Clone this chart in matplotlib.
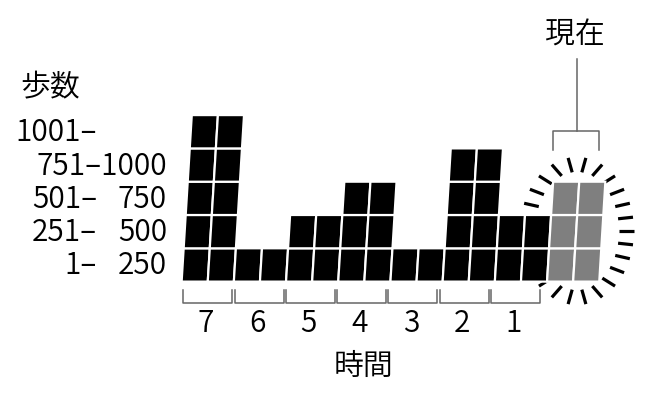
import numpy as np
import matplotlib
matplotlib.use("Agg")
import matplotlib.pyplot as plt
from matplotlib.patches import Polygon

# ---------------- data ----------------
hours = ["7", "6", "5", "4", "3", "2", "1"]
past_levels = [5, 5, 1, 1, 2, 2, 3, 3, 1, 1, 4, 4, 2, 2]   # two columns per hour
current_levels = [3, 3]
current_label = "現在"
level_labels = ["1– 250", "251– 500", "501– 750", "751–1000", "1001–"]
y_title = "歩数"
x_title = "時間"

# ---------------- style / layout ----------------
plt.rcParams['font.family'] = ['Noto Sans CJK JP', 'DejaVu Sans']
plt.rcParams['font.weight'] = 350
W, H = 667, 400
FS = 21.5
BLACK = "#000000"
GRAY = "#7f7f7f"
LINE = "#666666"

COL0_PX = 181.65
COL_PX = 26.1
ROW0_PX = 281.6
ROW_PX = 33.3
SHEAR = 0.061
GAP_PT = 2.2 * 72 / 100

fig = plt.figure(figsize=(W / 100, H / 100), dpi=100)
ax = fig.add_axes([0, 0, 1, 1])
ax.axis('off')
ax.set_xlim(-COL0_PX / COL_PX, (W - COL0_PX) / COL_PX)
ax.set_ylim(-(H - ROW0_PX) / ROW_PX, ROW0_PX / ROW_PX)
k = SHEAR * ROW_PX / COL_PX


def P(px, py):
    """pixel position (from top-left) -> data coordinates"""
    return ((px - COL0_PX) / COL_PX, (ROW0_PX - py) / ROW_PX)


# ---------------- blocks ----------------
levels = past_levels + current_levels
colors = [BLACK] * len(past_levels) + [GRAY] * len(current_levels)
for i, (n, c) in enumerate(zip(levels, colors)):
    for j in range(n):
        verts = [(i + k * j, j), (i + 1 + k * j, j),
                 (i + 1 + k * (j + 1), j + 1), (i + k * (j + 1), j + 1)]
        ax.add_patch(Polygon(verts, closed=True, facecolor=c, edgecolor='white',
                             linewidth=GAP_PT, joinstyle='miter', zorder=3))

# ---------------- burst around current ----------------
cx, cy = 577.0, 231.0
RX, RY, L, A = 57.0, 74.0, 15.0, 2.2
for m in range(26):
    phi = np.deg2rad(360.0 * m / 26)
    t = np.arctan2(RX * np.sin(phi), RY * np.cos(phi))
    ox, oy = cx + RX * np.cos(t), cy - RY * np.sin(t)
    nx, ny = np.cos(t) / RX ** A, np.sin(t) / RY ** A
    nn = np.hypot(nx, ny)
    nx, ny = nx / nn, ny / nn
    ix, iy = ox - L * nx, oy + L * ny
    p0, p1 = P(ox, oy), P(ix, iy)
    ax.plot([p0[0], p1[0]], [p0[1], p1[1]], color=BLACK, lw=2.3,
            solid_capstyle='butt', zorder=1)

# ---------------- x axis brackets + labels ----------------
BR0, BRP, BRW = 183.3, 51.3, 49.0
for h, lab in enumerate(hours):
    l = BR0 + BRP * h
    r = l + BRW
    pts = [P(l, 290), P(l, 302.5), P(r, 302.5), P(r, 290)]
    ax.plot([p[0] for p in pts], [p[1] for p in pts], color=LINE, lw=1.1, zorder=2)
    tx, ty = P((l + r) / 2 - 2, 323)
    ax.text(tx, ty, lab, ha='center', va='center', fontsize=FS)

tx, ty = P(364, 366)
ax.text(tx, ty, x_title, ha='center', va='center', fontsize=FS)

# ---------------- current marker ----------------
pts = [P(553.3, 150), P(553.3, 130.7), P(599.3, 130.7), P(599.3, 150)]
ax.plot([p[0] for p in pts], [p[1] for p in pts], color=LINE, lw=1.1, zorder=2)
pts = [P(576.5, 59), P(576.5, 130.7)]
ax.plot([p[0] for p in pts], [p[1] for p in pts], color=LINE, lw=1.1, zorder=2)
tx, ty = P(575, 35)
ax.text(tx, ty, current_label, ha='center', va='center', fontsize=FS)

# ---------------- y labels ----------------
DASH_X, RIGHT_X = 97.0, 167.0
for j, lab in enumerate(level_labels):
    lo, hi = lab.split("–")
    yy = j + 0.5 - 1.0 / ROW_PX
    if hi == "" or hi.startswith(" "):
        ax.text(P(DASH_X, 0)[0], yy, lo + "–", ha='right', va='center', fontsize=FS)
        if hi.strip():
            ax.text(P(RIGHT_X, 0)[0], yy, hi.strip(), ha='right', va='center', fontsize=FS)
    else:
        ax.text(P(RIGHT_X, 0)[0], yy, lab, ha='right', va='center', fontsize=FS)

tx, ty = P(50, 88)
ax.text(tx, ty, y_title, ha='center', va='center', fontsize=FS)

fig.savefig("out.png", dpi=100)
